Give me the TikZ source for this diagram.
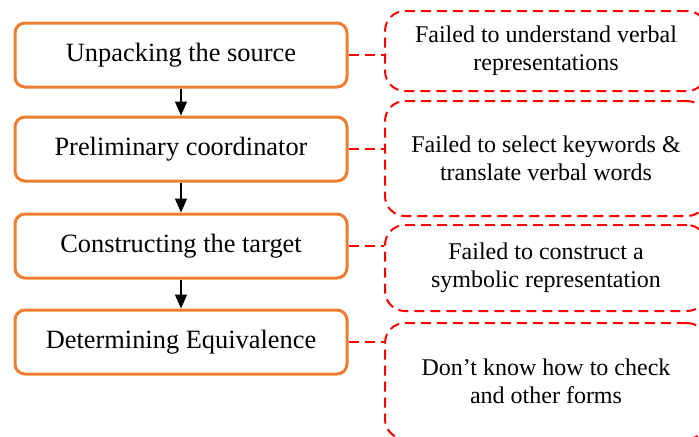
\documentclass[tikz,border=0pt]{standalone}
\usepackage{fontspec}
\setmainfont{Liberation Serif}
\usepackage{xcolor}
\usepackage{tikz}
\usetikzlibrary{arrows.meta}

\definecolor{stageorange}{HTML}{ED7D31}

\begin{document}
\begin{tikzpicture}[x=0.5pt,y=-0.5pt,
		every node/.style={font=\fontsize{13.2}{14}\selectfont},
		stage/.style={draw=stageorange,line width=1.5pt,rounded corners=5pt,
			minimum width=166pt,minimum height=32pt,inner sep=0pt,fill=white},
		fault/.style={draw=red,line width=1pt,dash pattern=on 5pt off 3pt,
			rounded corners=10pt,minimum width=161pt,inner sep=0pt,anchor=west,
			align=center,font=\fontsize{12}{14}\selectfont},
		link/.style={draw=red,line width=1pt,dash pattern=on 5pt off 3pt},
		flow/.style={draw=black,line width=0.6pt,-{Triangle[width=6pt,length=7pt]}}]
			\useasboundingbox (0,0) rectangle (699,436);
			% stages
			\node[stage] (unpack) at (181,55) {Unpacking the source};
			\node[stage] (prelim) at (181,149) {Preliminary coordinator};
			\node[stage] (construct) at (181,246) {Constructing the target};
			\node[stage] (determine) at (181,342) {Determining Equivalence};
			% difficulties
			\node[fault,minimum height=40pt] (fail1) at (384,51) {Failed to understand verbal\\representations};
			\node[fault,minimum height=57.5pt] (fail2) at (384,158.5) {Failed to select keywords \&\\translate verbal words};
			\node[fault,minimum height=43pt] (fail3) at (384,268) {Failed to construct a\\symbolic representation};
			\node[fault,minimum height=58pt] (fail4) at (384,381) {Don\symbol{39}t know how to check\\and other forms};
			% arrows
			\draw[flow] (unpack) -- (prelim);
			\draw[flow] (prelim) -- (construct);
			\draw[flow] (construct) -- (determine);
			% dashed links
			\draw[link] (unpack.east) -- (unpack.east -| fail1.west);
			\draw[link] (prelim.east) -- (prelim.east -| fail2.west);
			\draw[link] (construct.east) -- (construct.east -| fail3.west);
			\draw[link] (determine.east) -- (determine.east -| fail4.west);
		\end{tikzpicture}
\end{document}
